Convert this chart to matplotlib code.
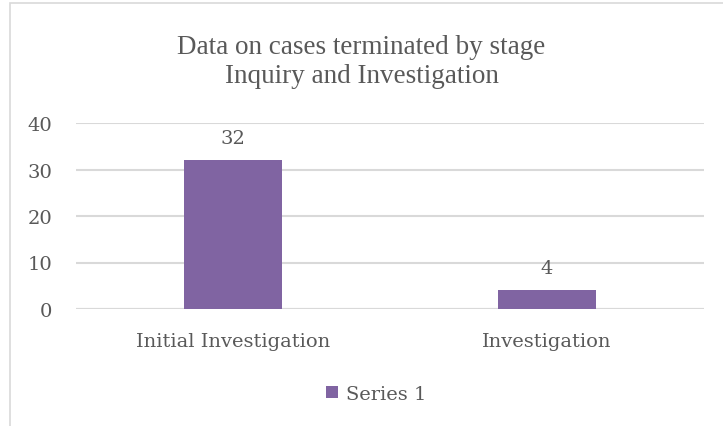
import matplotlib.pyplot as plt
from matplotlib.patches import Rectangle

categories = ['Initial Investigation', 'Investigation']
values = [32, 4]
series_name = 'Series 1'
yticks = [0, 10, 20, 30, 40]

bar_color = '#8064A2'
text_color = '#595959'
grid_color = '#D9D9D9'

fig = plt.figure(figsize=(7.23, 4.27), dpi=100)
# chart border (light gray frame, partly cut off)
fig.patches.append(Rectangle((10 / 723, -0.1), 1.2, (427 - 4) / 427 + 0.1,
                             transform=fig.transFigure, fill=False,
                             edgecolor=grid_color, linewidth=1.2))

ax = fig.add_axes([76 / 723, (427 - 310) / 427, (704 - 76) / 723, (310 - 124) / 427])
x = range(len(categories))
bars = ax.bar(x, values, width=0.315, color=bar_color, zorder=3, label=series_name)
for b, v in zip(bars, values):
    ax.text(b.get_x() + b.get_width() / 2, v + 2.8, str(v), ha='center', va='bottom',
            fontsize=14, color=text_color, family='DejaVu Serif')

ax.set_xlim(-0.5, len(categories) - 0.5)
ax.set_ylim(0, 40)
ax.set_yticks(yticks)
ax.set_xticks(list(x))
ax.set_xticklabels(categories)
ax.yaxis.grid(True, color=grid_color, linewidth=1.5, zorder=0)
for s in ax.spines.values():
    s.set_visible(False)
ax.axhline(0, color=grid_color, linewidth=1.5, zorder=2)
ax.tick_params(length=0, labelsize=14, colors=text_color)
ax.tick_params(axis='y', pad=17)
ax.tick_params(axis='x', pad=16.5)
for lab in ax.get_xticklabels() + ax.get_yticklabels():
    lab.set_family('DejaVu Serif')

fig.text(0.5, 1 - 62 / 427, 'Data on cases terminated by stage\nInquiry and Investigation',
         ha='center', va='center', fontsize=19.5, color=text_color,
         family='Liberation Serif', linespacing=1.25)

leg = ax.legend(loc='center', bbox_to_anchor=((376 - 76) / 628, -0.455), frameon=False,
                prop={'family': 'DejaVu Serif', 'size': 14},
                handlelength=0.6, handleheight=0.6, handletextpad=0.4)
for t in leg.get_texts():
    t.set_color(text_color)

fig.savefig('out.png', dpi=100)
